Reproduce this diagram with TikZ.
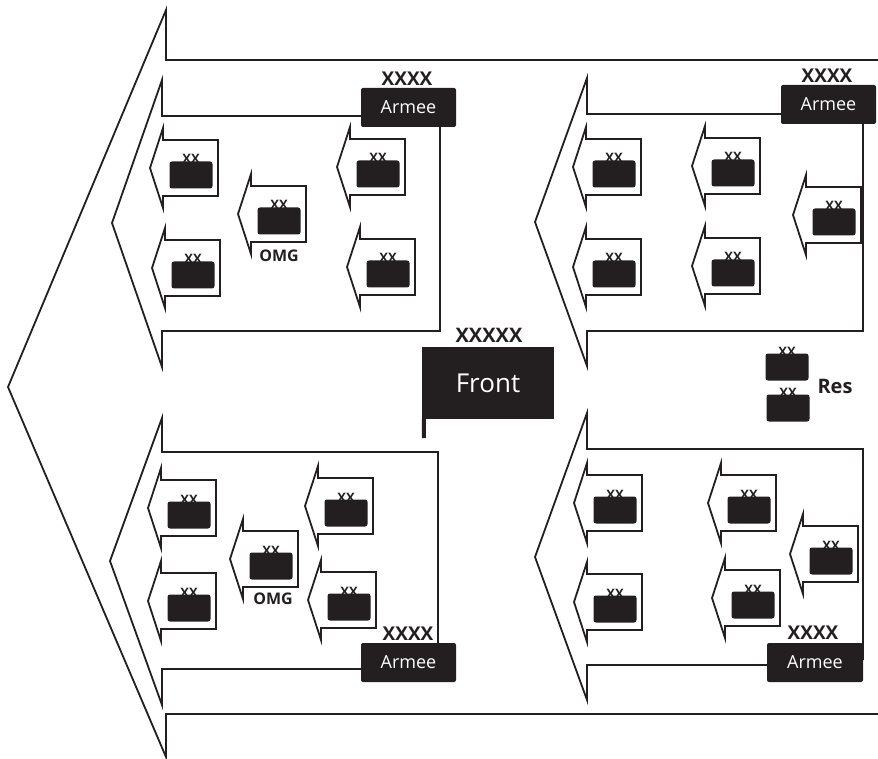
\documentclass[tikz,border=0pt]{standalone}
\usepackage{fontspec}
\setmainfont{Open Sans}
\definecolor{ink}{RGB}{35,31,32}
\tikzset{
  outline/.style={
    draw=ink,
    line width=1.8pt
  },
  unitbox/.style={
    fill=ink,
    rounded corners=2.5pt,
    minimum width=43pt,
    minimum height=27pt,
    inner sep=0pt
  },
  xx/.style={
    text=ink,
    anchor=base,
    inner sep=0pt,
    font=\bfseries\fontsize{13}{13}\selectfont
  },
  division/.pic={
    \draw[outline] (0,0) -- (13,-40) -- (13,-28) -- (68,-28) -- (68,28) -- (13,28) -- (13,40) -- cycle;
    \node[unitbox] (-box) at (41,7) {};
    \node[xx] (-xx) at (41,-4) {XX};
  },
  armee/.style={
    fill=ink,
    text=white,
    rounded corners=2pt,
    minimum width=95pt,
    minimum height=39pt,
    inner sep=0pt,
    font=\fontsize{18}{20}\selectfont
  },
  xxxx/.style={
    text=ink,
    inner sep=0pt,
    font=\bfseries\fontsize{19}{20}\selectfont
  },
  tag/.style={
    text=ink,
    inner sep=0pt,
    font=\bfseries\fontsize{16}{18}\selectfont
  },
  front/.style={
    fill=ink,
    text=white,
    minimum width=132pt,
    minimum height=72pt,
    inner sep=0pt,
    font=\fontsize{26}{28}\selectfont
  }
}

\begin{document}
\begin{tikzpicture}[x=1pt,y=-1pt]
    \useasboundingbox (0,0) rectangle (878,759);

    \draw[outline] (878,60) -- (166,60) -- (166,10) -- (8,387) -- (166,757) -- (166,714) -- (878,714);

    \draw[outline] (380,116) -- (162,116) -- (162,80) -- (112,223) -- (162,367) -- (162,331) -- (440,331) -- (440,110);
    \draw[outline] (800,114) -- (587,114) -- (587,78) -- (535,222) -- (587,366) -- (587,331) -- (863,331) -- (863,110);
    \draw[outline] (380,669) -- (162,669) -- (162,705) -- (110,561) -- (162,418) -- (162,452) -- (438,452) -- (438,660);
    \draw[outline] (790,665) -- (587,665) -- (587,700) -- (535,557) -- (587,413) -- (587,449) -- (863,449) -- (863,660);

    \node[armee] (armeetl) at (408.5,107.5) {Armee};
    \node[armee] (armeetr) at (828.5,104.5) {Armee};
    \node[armee] (armeebl) at (408.5,662.5) {Armee};
    \node[armee,minimum width=96pt] (armeebr) at (815,662.5) {Armee};
    \node[xxxx] (xxxxtl) at (407,79) {XXXX};
    \node[xxxx] (xxxxtr) at (827,76) {XXXX};
    \node[xxxx] (xxxxbl) at (408,634) {XXXX};
    \node[xxxx] (xxxxbr) at (813,633) {XXXX};

    \pic (tl1) at (150,168) {division};
    \pic (tl2) at (152,268) {division};
    \pic (tl3) at (238,214) {division};
    \pic (tl4) at (337,167) {division};
    \pic (tl5) at (347,267) {division};
    \node[tag] (omgtl) at (279,256) {OMG};

    \pic (tr1) at (573,167) {division};
    \pic (tr2) at (692,166) {division};
    \pic (tr3) at (793,215) {division};
    \pic (tr4) at (573,267) {division};
    \pic (tr5) at (692,266) {division};

    \pic (bl1) at (148,508) {division};
    \pic (bl2) at (148,601) {division};
    \pic (bl3) at (230,559) {division};
    \pic (bl4) at (305,506) {division};
    \pic (bl5) at (308,600) {division};
    \node[tag] (omgbl) at (273,599) {OMG};

    \pic (br1) at (574,503) {division};
    \pic (br2) at (708,503) {division};
    \pic (br3) at (790,554) {division};
    \pic (br4) at (574,602) {division};
    \pic (br5) at (712,598) {division};

    \node[front] (front) at (488,383) {Front};
    \node[xxxx,font=\bfseries\fontsize{20}{22}\selectfont] (xxxxxfront) at (489,335) {XXXXX};
    \coordinate (polefoot) at (424,438);
    \draw[ink,line width=4pt] ([xshift=2pt]front.south west) -- (polefoot);

    \node[unitbox] (res1) at (787,367) {};
    \node[xx] (res1xx) at (787,356) {XX};
    \node[unitbox] (res2) at (788,408) {};
    \node[xx] (res2xx) at (788,397) {XX};
    \node[tag,font=\bfseries\fontsize{20}{22}\selectfont] (res) at (835,386) {Res};
\end{tikzpicture}
\end{document}
